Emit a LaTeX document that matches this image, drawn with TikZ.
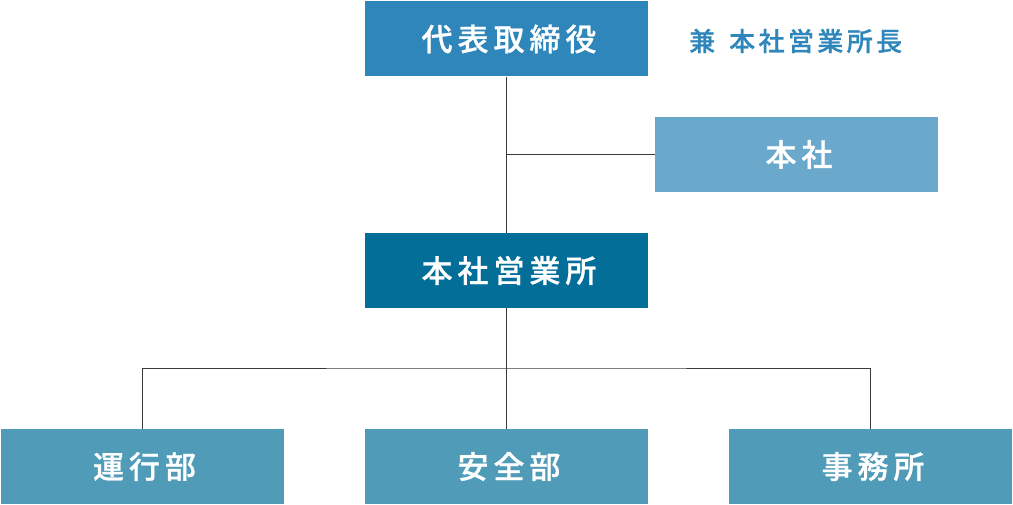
\documentclass[tikz,border=0pt]{standalone}
\usepackage{fontspec}
\newfontfamily\jpfont[LetterSpace=16,FakeBold=0.8]{Noto Sans CJK JP Medium}
\newfontfamily\jpnote[LetterSpace=13,FakeBold=0.8]{Noto Sans CJK JP Medium}
\definecolor{topblue}{HTML}{2E86BA}
\definecolor{lightblue}{HTML}{6AA8CC}
\definecolor{darkblue}{HTML}{036F99}
\definecolor{midblue}{HTML}{4F9BB8}
\definecolor{linegray}{HTML}{3A3A3A}
\begin{document}
\begin{tikzpicture}[x=1pt,y=-1pt,
  box/.style={minimum width=283pt,minimum height=75pt,inner sep=0pt,text=white,font=\jpfont\fontsize{31}{31}\selectfont},
  conn/.style={draw=linegray,line width=0.9pt}]
\useasboundingbox (0,0) rectangle (1013,505);
\node[box,fill=topblue] (ceo) at (506.5,39) {\hspace{5pt}代表取締役};
\node[text=topblue,font=\jpnote\fontsize{26}{26}\selectfont,anchor=west,inner sep=0pt] (note) at (689,41) {兼\hspace{14pt}本社営業所長};
\node[box,fill=lightblue] (hq) at (796.5,154.5) {\hspace{5pt}本社};
\node[box,fill=darkblue] (office) at (506.5,270.5) {\hspace{5pt}本社営業所};
\node[box,fill=midblue] (ops) at (142,466.5) {\hspace{5pt}運行部};
\node[box,fill=midblue] (safe) at (506.5,466.5) {\hspace{5pt}安全部};
\node[box,fill=midblue] (admin) at (870.5,466.5) {\hspace{5pt}事務所};
\coordinate (bra) at (506.5,368);
\draw[conn] (ceo.south) -- (office.north);
\draw[conn] (hq.west) -- (hq.west -| ceo.south);
\draw[conn] (office.south) -- (bra);
\draw[conn] (ops.north) |- (bra) -| (admin.north);
\draw[conn] (bra) -- (safe.north);
\end{tikzpicture}
\end{document}
